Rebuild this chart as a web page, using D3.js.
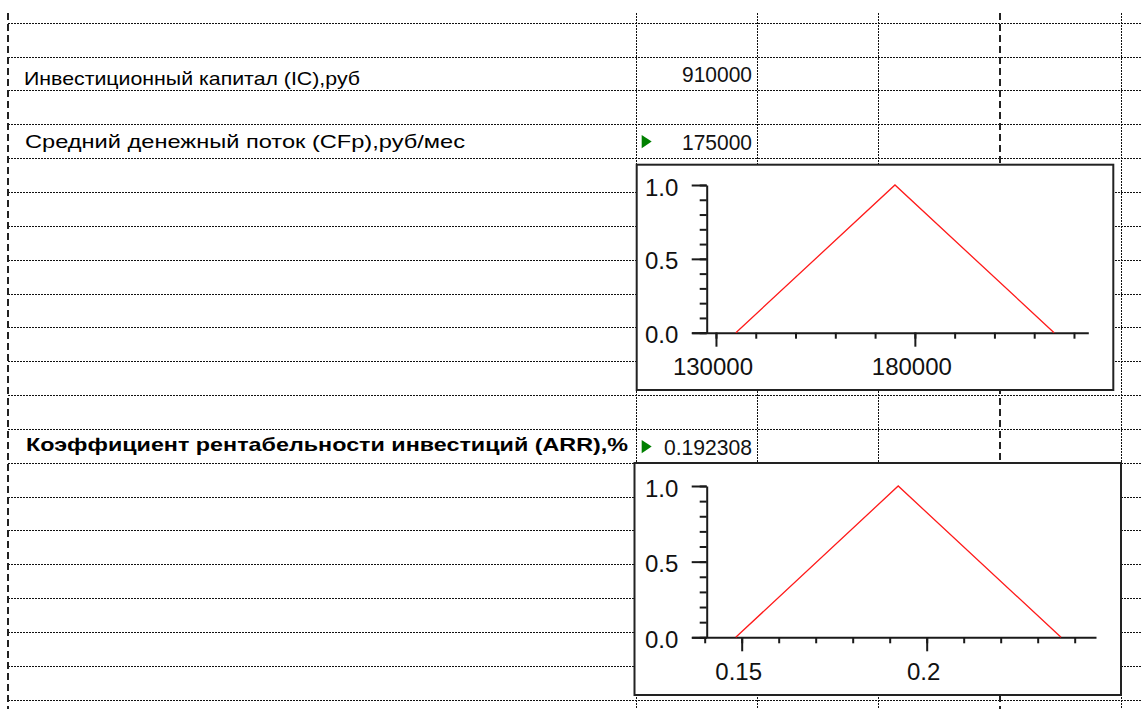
<!DOCTYPE html>
<html>
<head>
    <meta charset="utf-8">
    <title>ARR</title>
    <script src="https://d3js.org/d3.v7.min.js"></script>
    <style>
        body { margin: 0; background: #fff; }
        svg { display: block; }
        .axis text { font-family: "Liberation Sans", Arial, sans-serif; font-size: 24px; fill: #111; }
        .axis line, .axis path { stroke: #1a1a1a; stroke-width: 2px; }
    </style>
</head>
<body>
<div id="svg-container"></div>
<script>
    // data
    const rowLabels = ["Инвестиционный капитал (IC),руб", "Средний денежный поток (CFp),руб/мес", "Коэффициент рентабельности инвестиций (ARR),%"];
    const rowValues = ["910000", "175000", "0.192308"];
    const rowMarked = [false, true, true];

    const cfpPoints = [135000, 175000, 215000];
    const arrPoints = [0.1484, 0.1923, 0.2363];
    const degree = [0, 1, 0];

    const cfpTicks = [130000, 140000, 150000, 160000, 170000, 180000, 190000, 200000, 210000, 220000];
    const cfpMajor = [130000, 180000];
    const arrTicks = [0.14, 0.15, 0.16, 0.17, 0.18, 0.19, 0.2, 0.21, 0.22, 0.23, 0.24];
    const arrMajor = [0.15, 0.2];
    const yTicks = [0, 0.1, 0.2, 0.3, 0.4, 0.5, 0.6, 0.7, 0.8, 0.9, 1.0];
    const yMajor = [0, 0.5, 1.0];

    const width = 1142, height = 709;

    const svg = d3.select("#svg-container")
        .append("svg")
        .attr("width", width)
        .attr("height", height);

    svg.append("rect").attr("width", width).attr("height", height).attr("fill", "#fff");

    // sheet grid
    const row = d3.scaleLinear().domain([0, 20]).range([22.7, 699.7]);
    const crisp = v => Math.round(v) + 0.5;
    const gridCols = [636, 757, 878, 1121];
    const breakCols = [8, 1000];

    const grid = svg.append("g").attr("shape-rendering", "crispEdges");
    grid.selectAll("line.h")
        .data(d3.range(21))
        .join("line")
        .attr("class", "h")
        .attr("x1", 8).attr("x2", width)
        .attr("y1", d => crisp(row(d))).attr("y2", d => crisp(row(d)))
        .attr("stroke", "#111")
        .attr("stroke-dasharray", "2,1");
    grid.selectAll("line.v")
        .data(gridCols)
        .join("line")
        .attr("class", "v")
        .attr("x1", d => crisp(d)).attr("x2", d => crisp(d))
        .attr("y1", 13).attr("y2", height)
        .attr("stroke", "#111")
        .attr("stroke-dasharray", "2,1");
    grid.selectAll("line.b")
        .data(breakCols)
        .join("line")
        .attr("class", "b")
        .attr("x1", d => d).attr("x2", d => d)
        .attr("y1", 13).attr("y2", height)
        .attr("stroke", "#222")
        .attr("stroke-width", 2)
        .attr("stroke-dasharray", "7,4");

    // cell texts
    const textRows = [
        { label: { x: 24, y: 85, len: 336 }, value: { y: 81.7, len: 70 } },
        { label: { x: 25, y: 148.3, len: 440 }, value: { y: 150, len: 70 } },
        { label: { x: 26, y: 451, len: 602 }, value: { y: 455, len: 88 } }
    ];
    rowLabels.forEach((t, i) => {
        const p = textRows[i];
        svg.append("text")
            .attr("x", p.label.x)
            .attr("y", p.label.y)
            .attr("textLength", p.label.len)
            .attr("lengthAdjust", "spacingAndGlyphs")
            .style("font-family", "'Liberation Sans', Arial, sans-serif")
            .style("font-size", "19px")
            .style("font-weight", i === 2 ? "bold" : "normal")
            .attr("fill", "#000")
            .text(t);
        svg.append("text")
            .attr("x", 752 - p.value.len)
            .attr("y", p.value.y)
            .attr("textLength", p.value.len)
            .attr("lengthAdjust", "spacingAndGlyphs")
            .style("font-family", "'Liberation Sans', Arial, sans-serif")
            .style("font-size", "22px")
            .attr("fill", "#111")
            .text(rowValues[i]);
        if (rowMarked[i]) {
            const ty = p.value.y - 15;
            svg.append("path")
                .attr("d", `M641.7,${ty} L651.7,${ty + 6.6} L641.7,${ty + 13.3} Z`)
                .attr("fill", "#008000");
        }
    });

    // membership charts
    const charts = [
        {
            box: { x: 636.7, y: 164.7, w: 476.6, h: 225.3 },
            xDomain: [123900, 223600], xRange: [691.7, 1088.3], yRange: [332.7, 185],
            points: cfpPoints, ticks: cfpTicks, major: cfpMajor, fmt: d3.format("d")
        },
        {
            box: { x: 634.5, y: 463, w: 486.5, h: 232 },
            xDomain: [0.13649, 0.24576], xRange: [691.7, 1096], yRange: [637.3, 486],
            points: arrPoints, ticks: arrTicks, major: arrMajor, fmt: d => String(+d.toFixed(2))
        }
    ];

    charts.forEach(c => {
        const g = svg.append("g");
        g.append("rect")
            .attr("x", c.box.x).attr("y", c.box.y)
            .attr("width", c.box.w).attr("height", c.box.h)
            .attr("fill", "#fff")
            .attr("stroke", "#222")
            .attr("stroke-width", 2);

        const x = d3.scaleLinear().domain(c.xDomain).range(c.xRange);
        const y = d3.scaleLinear().domain([0, 1]).range(c.yRange);
        const x0 = c.yRange[0];
        const yAxisX = c.xRange[0] + 15;

        // y axis
        g.append("g").attr("class", "axis")
            .attr("transform", `translate(${yAxisX},0)`)
            .call(d3.axisLeft(y).tickValues(yTicks).tickSize(7).tickSizeOuter(0).tickFormat(""))
            .call(a => a.select(".domain").remove());
        g.append("g").attr("class", "axis")
            .attr("transform", `translate(${yAxisX},0)`)
            .call(d3.axisLeft(y).tickValues(yMajor).tickSize(15).tickSizeOuter(0).tickPadding(13.4).tickFormat(d3.format(".1f")))
            .call(a => a.selectAll("text").attr("dy", "0.42em"));

        // x axis
        g.append("g").attr("class", "axis")
            .attr("transform", `translate(0,${x0})`)
            .call(d3.axisBottom(x).tickValues(c.ticks).tickSize(6).tickSizeOuter(0).tickFormat(""));
        g.append("g").attr("class", "axis")
            .attr("transform", `translate(0,${x0})`)
            .call(d3.axisBottom(x).tickValues(c.major).tickSize(14).tickSizeOuter(0).tickPadding(11.6).tickFormat(c.fmt))
            .call(a => a.select(".domain").remove())
            .call(a => a.selectAll("text").attr("dx", -3.5));

        const line = d3.line()
            .x((d, i) => x(c.points[i]))
            .y(d => y(d));
        g.append("path")
            .datum(degree)
            .attr("d", line)
            .attr("fill", "none")
            .attr("stroke", "#ff1a1a")
            .attr("stroke-width", 1.3);
    });
</script>
</body>
</html>
